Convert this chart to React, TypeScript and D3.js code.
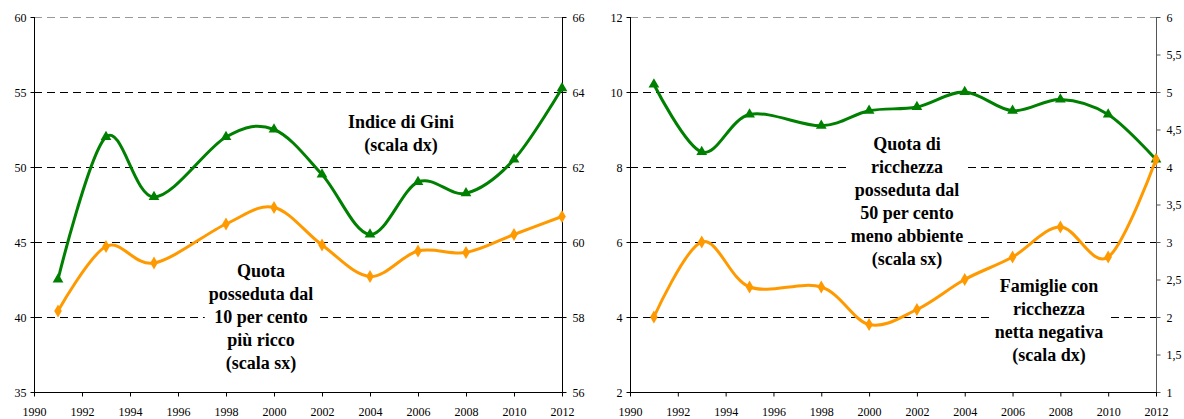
import { useEffect, useRef } from "react"
import * as d3 from "d3"

// survey years
const years = [1991, 1993, 1995, 1998, 2000, 2002, 2004, 2006, 2008, 2010, 2012]

// left panel
const giniIndex = [59.0, 62.8, 61.2, 62.8, 63.0, 61.8, 60.2, 61.6, 61.3, 62.2, 64.1]
const top10Share = [40.4, 44.7, 43.6, 46.2, 47.3, 44.8, 42.7, 44.4, 44.3, 45.5, 46.7]

// right panel
const bottom50Share = [10.2, 8.4, 9.4, 9.1, 9.5, 9.6, 10.0, 9.5, 9.8, 9.4, 8.2]
const negativeWealthFamilies = [2.0, 3.0, 2.4, 2.4, 1.9, 2.1, 2.5, 2.8, 3.2, 2.8, 4.1]

// tick labels
const xTicks = [1990, 1992, 1994, 1996, 1998, 2000, 2002, 2004, 2006, 2008, 2010, 2012]
const leftTicksA = [35, 40, 45, 50, 55, 60]
const rightTicksA = [56, 58, 60, 62, 64, 66]
const leftTicksB = [2, 4, 6, 8, 10, 12]
const rightTicksB = [1, 1.5, 2, 2.5, 3, 3.5, 4, 4.5, 5, 5.5, 6]

const GREEN = "#008000"
const ORANGE = "#ff9900"
const FONT = "Liberation Serif, DejaVu Serif, Times New Roman, serif"

interface Note {
  lines: string[]
  x: number
  y: number
}

interface PanelSpec {
  x0: number
  x1: number
  leftDomain: [number, number]
  rightDomain: [number, number]
  leftTicks: number[]
  rightTicks: number[]
  rightAxisColor: string
  green: { values: number[]; axis: "left" | "right" }
  orange: { values: number[]; axis: "left" | "right" }
  notes: Note[]
}

const fmt = (v: number) => String(v).replace(".", ",")

export default function App() {
  const svgRef = useRef<SVGSVGElement>(null)

  useEffect(() => {
    if (!svgRef.current) return
    const svg = d3.select(svgRef.current)
    svg.selectAll("*").remove()

    const top = 17
    const bottom = 392

    const panels: PanelSpec[] = [
      {
        x0: 34,
        x1: 562,
        leftDomain: [35, 60],
        rightDomain: [56, 66],
        leftTicks: leftTicksA,
        rightTicks: rightTicksA,
        rightAxisColor: "#000",
        green: { values: giniIndex, axis: "right" },
        orange: { values: top10Share, axis: "left" },
        notes: [
          { lines: ["Indice di Gini", "(scala dx)"], x: 401, y: 128 },
          { lines: ["Quota", "posseduta dal", "10 per cento", "più ricco", "(scala sx)"], x: 261, y: 277 },
        ],
      },
      {
        x0: 630,
        x1: 1156,
        leftDomain: [2, 12],
        rightDomain: [1, 6],
        leftTicks: leftTicksB,
        rightTicks: rightTicksB,
        rightAxisColor: "#555",
        green: { values: bottom50Share, axis: "left" },
        orange: { values: negativeWealthFamilies, axis: "right" },
        notes: [
          {
            lines: ["Quota di", "ricchezza", "posseduta dal", "50 per cento", "meno abbiente", "(scala sx)"],
            x: 907,
            y: 150,
          },
          { lines: ["Famiglie con", "ricchezza", "netta negativa", "(scala dx)"], x: 1049, y: 292 },
        ],
      },
    ]

    panels.forEach((p) => {
      const x = d3.scaleLinear().domain([1990, 2012]).range([p.x0, p.x1])
      const yL = d3.scaleLinear().domain(p.leftDomain).range([bottom, top])
      const yR = d3.scaleLinear().domain(p.rightDomain).range([bottom, top])
      const g = svg.append("g")

      // dashed grid on left-axis ticks
      g.selectAll("line.grid")
        .data(p.leftTicks.slice(1))
        .enter()
        .append("line")
        .attr("x1", p.x0)
        .attr("x2", p.x1)
        .attr("y1", (d) => yL(d) + 0.5)
        .attr("y2", (d) => yL(d) + 0.5)
        .attr("stroke", (d, i) => (i === p.leftTicks.length - 2 ? "#999" : "#000"))
        .attr("stroke-width", 1)
        .attr("stroke-dasharray", "8,5")

      // text boxes (white background hides the grid)
      p.notes.forEach((n) => {
        const ng = g.append("g")
        const rect = ng.append("rect").attr("fill", "#fff")
        const t = ng
          .append("text")
          .attr("text-anchor", "middle")
          .style("font-family", FONT)
          .attr("font-weight", "bold")
          .attr("font-size", 18)
          .attr("fill", "#000")
        n.lines.forEach((line, i) => {
          t.append("tspan").attr("x", n.x).attr("y", n.y + i * 23).text(line)
        })
        const bb = (t.node() as SVGTextElement).getBBox()
        rect
          .attr("x", bb.x - 4)
          .attr("y", bb.y - 2)
          .attr("width", bb.width + 8)
          .attr("height", bb.height + 4)
      })

      // axes
      const axL = g.append("g").attr("transform", `translate(${p.x0 + 0.5},0)`)
      axL.append("line").attr("y1", top).attr("y2", bottom).attr("stroke", "#000")
      axL
        .selectAll("g")
        .data(p.leftTicks)
        .enter()
        .append("g")
        .attr("transform", (d) => `translate(0,${yL(d) + 0.5})`)
        .call((s) => s.append("line").attr("x1", -4).attr("x2", 0).attr("stroke", "#000"))
        .call((s) =>
          s
            .append("text")
            .attr("x", -8)
            .attr("dy", "0.35em")
            .attr("text-anchor", "end")
            .style("font-family", FONT)
            .attr("font-size", 12)
            .text((d) => fmt(d))
        )

      const axR = g.append("g").attr("transform", `translate(${p.x1 + 0.5},0)`)
      axR.append("line").attr("y1", top).attr("y2", bottom).attr("stroke", p.rightAxisColor)
      axR
        .selectAll("g")
        .data(p.rightTicks)
        .enter()
        .append("g")
        .attr("transform", (d) => `translate(0,${yR(d) + 0.5})`)
        .call((s) => s.append("line").attr("x1", 0).attr("x2", 4).attr("stroke", p.rightAxisColor))
        .call((s) =>
          s
            .append("text")
            .attr("x", 10)
            .attr("dy", "0.35em")
            .attr("text-anchor", "start")
            .style("font-family", FONT)
            .attr("font-size", 12)
            .text((d) => fmt(d))
        )

      const axB = g.append("g").attr("transform", `translate(0,${bottom + 0.5})`)
      axB.append("line").attr("x1", p.x0).attr("x2", p.x1 + 1).attr("stroke", "#000")
      axB
        .selectAll("g")
        .data(xTicks)
        .enter()
        .append("g")
        .attr("transform", (d) => `translate(${x(d) + 0.5},0)`)
        .call((s) => s.append("line").attr("y1", 0).attr("y2", 4).attr("stroke", "#000"))
        .call((s) =>
          s
            .append("text")
            .attr("y", 23)
            .attr("text-anchor", "middle")
            .style("font-family", FONT)
            .attr("font-size", 12)
            .text((d) => d)
        )

      // series
      const line = d3.line<[number, number]>().curve(d3.curveCardinal.tension(0))
      const drawSeries = (
        s: { values: number[]; axis: "left" | "right" },
        color: string,
        symbol: d3.SymbolType,
        size: number
      ) => {
        const ys = s.axis === "left" ? yL : yR
        const pts: [number, number][] = years.map((yr, i) => [x(yr), ys(s.values[i])])
        g.append("path")
          .attr("d", line(pts))
          .attr("fill", "none")
          .attr("stroke", color)
          .attr("stroke-width", 3)
        g.selectAll(null)
          .data(pts)
          .enter()
          .append("path")
          .attr("transform", (d) => `translate(${d[0]},${d[1]})`)
          .attr("d", d3.symbol().type(symbol).size(size)())
          .attr("fill", color)
      }

      drawSeries(p.green, GREEN, d3.symbolTriangle, 50)
      drawSeries(p.orange, ORANGE, d3.symbolDiamond, 50)
    })
  }, [])

  return (
    <svg
      ref={svgRef}
      width={1184}
      height={419}
      style={{ position: "absolute", left: 0, top: 0, background: "#fff", display: "block" }}
    />
  )
}
